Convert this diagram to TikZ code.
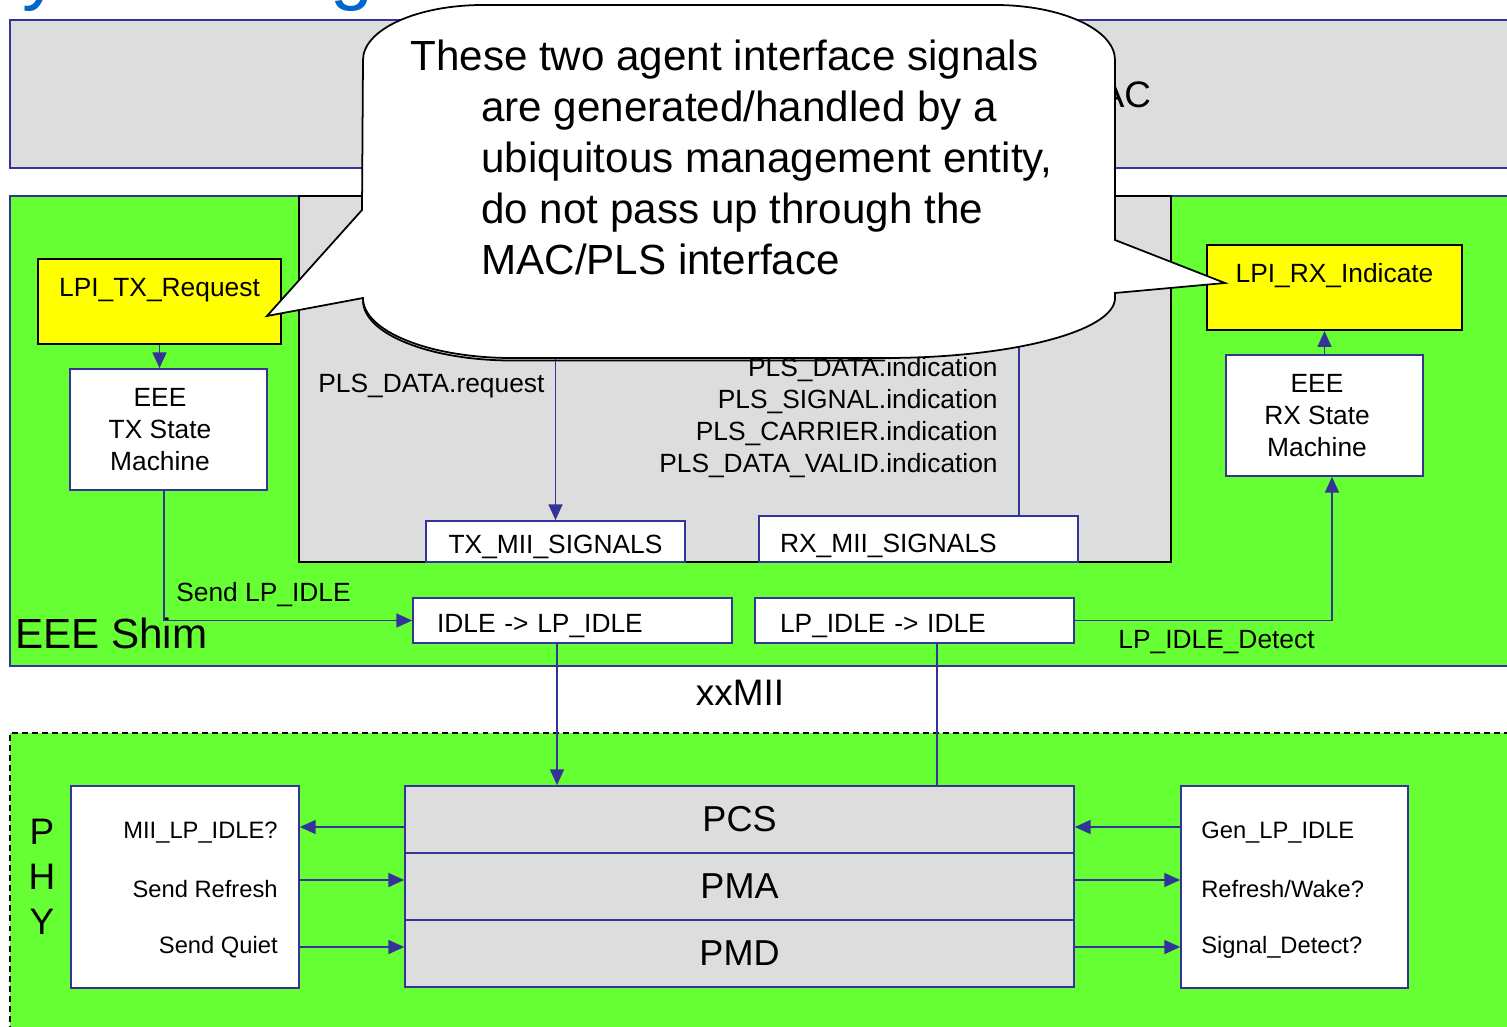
\documentclass[tikz,border=0pt]{standalone}
\usepackage{fontspec}
\setmainfont{Liberation Sans}
\usetikzlibrary{arrows.meta}

\definecolor{shimgreen}{HTML}{66FF33}
\definecolor{macgray}{HTML}{DDDDDD}
\definecolor{lineblue}{HTML}{333399}
\definecolor{lpiyellow}{HTML}{FFFF00}
\definecolor{titleblue}{HTML}{0066CC}

\tikzset{
  region/.style={draw=lineblue, line width=1pt},
  box/.style={draw=lineblue, line width=1pt, fill=white, inner sep=0pt,
    font=\fontsize{15}{18.1}\selectfont},
  lpibox/.style={draw=black, line width=1.3pt, fill=lpiyellow, inner sep=0pt,
    minimum height=1.7cm, text depth=0.57cm, font=\fontsize{15}{18.1}\selectfont},
  sublayer/.style={draw=lineblue, line width=1pt, fill=macgray, inner sep=0pt,
    minimum width=13.38cm, minimum height=1.34cm, font=\fontsize{20.5}{24}\selectfont},
  lbl/.style={inner sep=0pt, font=\fontsize{15}{18.1}\selectfont},
  small/.style={inner sep=0pt, font=\fontsize{13.5}{16}\selectfont},
  big/.style={inner sep=0pt, font=\fontsize{21}{25.5}\selectfont},
  sig/.style={draw=lineblue, line width=0.8pt},
  sigarrow/.style={sig, -{Triangle[length=9pt,width=8pt]}},
  note/.style={draw=black, line width=1pt, fill=white},
  notetext/.style={inner sep=0pt, align=left, font=\fontsize{24}{29.1}\selectfont},
  titlefrag/.style={inner sep=0pt, text=titleblue, font=\fontsize{44}{50}\selectfont},
}

\begin{document}
\begin{tikzpicture}[x=0.02cm, y=-0.02cm]
  \useasboundingbox (0,0) rectangle (1507,1027);
  \clip (0,0) rectangle (1507,1027);

  % slide title, cut off at the top
  \node[titlefrag, anchor=base west] (tity) at (22,-4) {y};
  \node[titlefrag, anchor=base west] (titg) at (330,-4) {g};

  % MAC layer
  \draw[region, fill=macgray] (10,20) rectangle (1530,168);
  \node[big] (mac) at (1110,95) {MAC};

  % EEE shim
  \draw[region, fill=shimgreen] (10,196) rectangle (1530,666);
  \node[draw=black, line width=1pt, fill=macgray, minimum width=17.44cm, minimum height=7.32cm] (pls) at (735,379) {};
  \node[font=\fontsize{24}{29}\selectfont, inner sep=0pt, anchor=west] (shim) at (15,633) {EEE Shim};

  \node[lpibox, minimum width=4.86cm] (txreq) at (159.5,301.5) {LPI\_TX\_Request};
  \node[box, minimum width=3.94cm, minimum height=2.42cm,
    label={[lbl, align=center, xshift=-0.17cm]center:{EEE\\TX State\\Machine}}] (txsm) at (168.5,429.5) {};
  \node[lpibox, minimum width=5.10cm] (rxind) at (1334.5,287.5) {LPI\_RX\_Indicate};
  \node[box, minimum width=3.94cm, minimum height=2.42cm,
    label={[lbl, align=center, xshift=-0.15cm]center:{EEE\\RX State\\Machine}}] (rxsm) at (1324.5,415.5) {};

  \node[box, text height=0.46cm, text depth=0pt, minimum width=5.18cm, minimum height=0.82cm] (txmii) at (555.5,541.5) {TX\_MII\_SIGNALS};
  \node[box, text height=0.54cm, text depth=0pt, inner xsep=0.42cm, text width=5.54cm, align=left, minimum height=0.92cm] (rxmii) at (918.5,539) {RX\_MII\_SIGNALS};

  \node[box, text height=0.46cm, text depth=0pt, inner xsep=0.48cm, text width=5.42cm, align=left, minimum height=0.9cm] (lpin) at (572.5,620.5) {IDLE -> LP\_IDLE};
  \node[box, text height=0.46cm, text depth=0pt, inner xsep=0.5cm, text width=5.38cm, align=left, minimum height=0.9cm] (lpout) at (914.5,620.5) {LP\_IDLE -> IDLE};

  \node[lbl, anchor=west] (datareq) at (318,386) {PLS\_DATA.request};
  \node[lbl, anchor=east] (dataind) at (998,370) {PLS\_DATA.indication};
  \node[lbl, anchor=east] (sigind) at (998,402) {PLS\_SIGNAL.indication};
  \node[lbl, anchor=east] (carind) at (998,434) {PLS\_CARRIER.indication};
  \node[lbl, anchor=east] (valind) at (998,466) {PLS\_DATA\_VALID.indication};

  \draw[sigarrow] (txreq.south) -- (txreq.south |- txsm.north);
  \draw[sigarrow] ([xshift=-0.09cm]txsm.south) |- (lpin.west);
  \node[lbl, anchor=west] (sendlp) at (176,595) {Send LP\_IDLE};
  \draw[sigarrow] (lpout.east) -| ([xshift=0.15cm]rxsm.south);
  \node[lbl, anchor=west] (detect) at (1118,642) {LP\_IDLE\_Detect};
  \draw[sigarrow] (rxsm.north) -- (rxsm.north |- rxind.south);
  \draw[sigarrow] (txmii.north |- pls.north) -- (txmii.north);
  \draw[sig] ([xshift=2.01cm]rxmii.north) -- ([xshift=2.01cm]rxmii.north |- pls.north);

  \node[big] (xxmii) at (740,693) {xxMII};

  % PHY
  \fill[shimgreen] (10,733) rectangle (1530,1040);
  \draw[line width=0.9pt, dash pattern=on 3.4pt off 2.3pt] (1530,733) -- (10,733) -- (10,1040);
  \node[big, align=center] (phy) at (42,877) {P\\H\\Y};

  \node[sublayer] (pcs) at (739.5,819.5) {PCS};
  \node[sublayer] (pma) at (739.5,886.5) {PMA};
  \node[sublayer] (pmd) at (739.5,953.5) {PMD};

  \node[box, minimum width=4.56cm, minimum height=4.04cm] (txlpi) at (185,887) {};
  \node[small, anchor=east] (miilp) at (278,833) {MII\_LP\_IDLE?};
  \node[small, anchor=east] (refresh) at (278,889) {Send Refresh};
  \node[small, anchor=east] (quiet) at (278,947) {Send Quiet};

  \node[box, minimum width=4.54cm, minimum height=4.04cm] (rxlpi) at (1294.5,887) {};
  \node[small, anchor=west] (genlp) at (1201,833) {Gen\_LP\_IDLE};
  \node[small, anchor=west] (wake) at (1201,889) {Refresh/Wake?};
  \node[small, anchor=west] (sigdet) at (1201,947) {Signal\_Detect?};

  \draw[sigarrow] ([xshift=-0.31cm]lpin.south) -- ([xshift=-0.31cm]lpin.south |- pcs.north);
  \draw[sig] ([xshift=0.45cm]lpout.south) -- ([xshift=0.45cm]lpout.south |- pcs.north);

  \draw[sigarrow] ([yshift=-0.15cm]pcs.west) -- ([yshift=-0.15cm]pcs.west -| txlpi.east);
  \draw[sigarrow] ([yshift=0.13cm]pma.west -| txlpi.east) -- ([yshift=0.13cm]pma.west);
  \draw[sigarrow] ([yshift=0.13cm]pmd.west -| txlpi.east) -- ([yshift=0.13cm]pmd.west);
  \draw[sigarrow] ([yshift=-0.15cm]pcs.east -| rxlpi.west) -- ([yshift=-0.15cm]pcs.east);
  \draw[sigarrow] ([yshift=0.13cm]pma.east) -- ([yshift=0.13cm]pma.east -| rxlpi.west);
  \draw[sigarrow] ([yshift=0.13cm]pmd.east) -- ([yshift=0.13cm]pmd.east -| rxlpi.west);

  % callout over the MAC/PLS interface, with its shadow along the lower left
  \draw[note, fill=none, yshift=-0.05cm] (885,358) -- (512,358)
    .. controls (429.2,358) and (363,331.1) .. (363,298);
  \draw[note] (363,60) .. controls (363,29.6) and (416.7,5) .. (483,5)
    -- (995,5) .. controls (1061.3,5) and (1115,29.6) .. (1115,60)
    -- (1115,240) -- (1225,283) -- (1115,293)
    -- (1115,298) .. controls (1115,331.1) and (1012,358) .. (885,358)
    -- (512,358) .. controls (429.2,358) and (363,331.1) .. (363,298)
    -- (267,316) -- (362,210) -- cycle;
  \node[notetext, anchor=west] (notetxt) at (410,157.5) {These two agent interface signals\\
    \hspace*{1.42cm}are generated/handled by a\\
    \hspace*{1.42cm}ubiquitous management entity,\\
    \hspace*{1.42cm}do not pass up through the\\
    \hspace*{1.42cm}MAC/PLS interface};
\end{tikzpicture}
\end{document}
